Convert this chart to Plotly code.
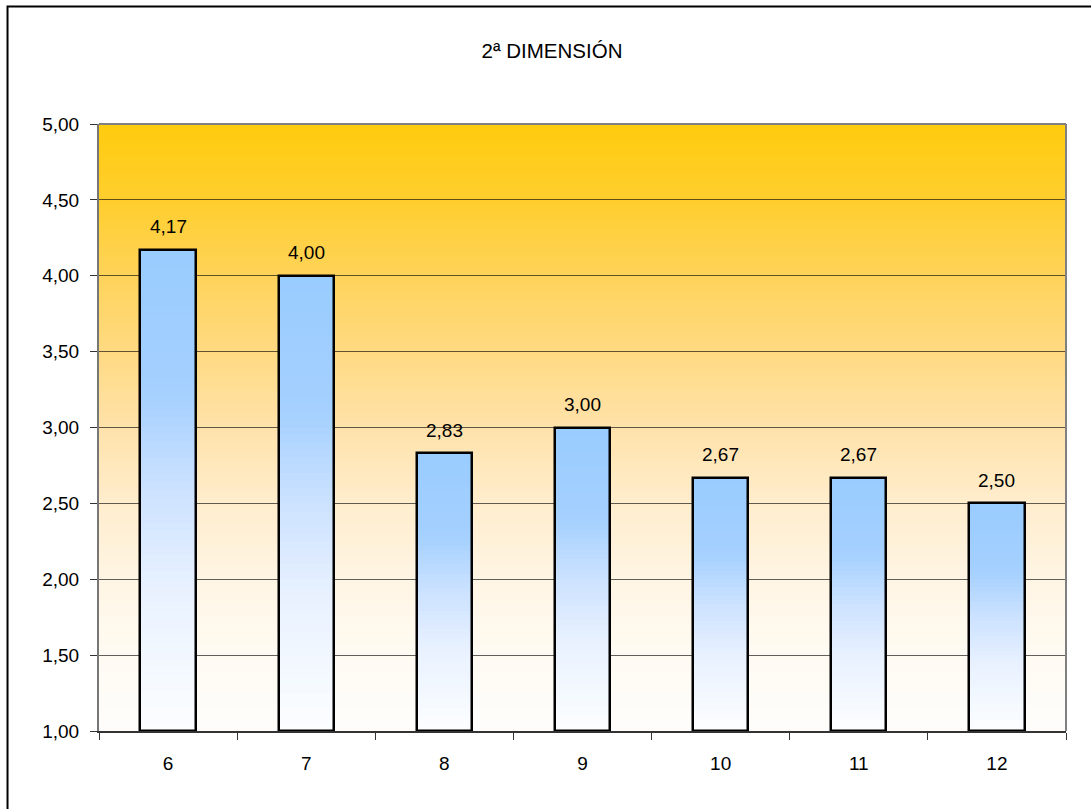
import plotly.graph_objects as go

# Data
categories = ["6", "7", "8", "9", "10", "11", "12"]
values = [4.17, 4.00, 2.83, 3.00, 2.67, 2.67, 2.50]
y_ticks = [1.0, 1.5, 2.0, 2.5, 3.0, 3.5, 4.0, 4.5, 5.0]
title_text = "2ª DIMENSIÓN"

Y_MIN, Y_MAX = 1.0, 5.0
FONT = "Liberation Sans, Arial, sans-serif"
BAR_WIDTH = 0.40
N_SLICES = 60
N_STRIPS = 120

# Colour stops (position 0 = bottom, 1 = top)
BAR_STOPS = [
    (0.00, (252, 253, 255)),
    (0.10, (246, 250, 255)),
    (0.30, (232, 241, 255)),
    (0.50, (204, 226, 255)),
    (0.70, (165, 208, 255)),
    (1.00, (153, 204, 255)),
]
BG_STOPS = [
    (0.000, (254, 253, 251)),
    (0.125, (255, 251, 243)),
    (0.250, (255, 245, 228)),
    (0.375, (255, 237, 205)),
    (0.500, (255, 226, 170)),
    (0.625, (255, 218, 130)),
    (0.750, (255, 211, 90)),
    (0.875, (255, 206, 45)),
    (1.000, (255, 204, 14)),
]


def gradient(stops, t):
    for (p0, c0), (p1, c1) in zip(stops, stops[1:]):
        if t <= p1:
            u = (t - p0) / (p1 - p0)
            return "rgb({},{},{})".format(*[round(a + (b - a) * u) for a, b in zip(c0, c1)])
    return "rgb({},{},{})".format(*stops[-1][1])


def fmt(v):
    return f"{v:.2f}".replace(".", ",")


x_pos = list(range(len(categories)))
fig = go.Figure()

# Bars: vertical white-to-blue gradient built from stacked slices of each bar;
# each slice overlaps the next one a little so no seams show.
for k in range(N_SLICES):
    t = (k + 0.5) / N_SLICES
    last = k == N_SLICES - 1
    fig.add_trace(go.Bar(
        x=x_pos,
        y=[(v - Y_MIN) / N_SLICES * (1.0 if last else 1.8) for v in values],
        base=[Y_MIN + k * (v - Y_MIN) / N_SLICES for v in values],
        width=BAR_WIDTH,
        marker=dict(color=gradient(BAR_STOPS, t), line=dict(width=0)),
        hoverinfo="skip",
        showlegend=False,
    ))

# Bar outlines
fig.add_trace(go.Bar(
    x=x_pos,
    y=[v - Y_MIN for v in values],
    base=[Y_MIN] * len(values),
    width=BAR_WIDTH,
    marker=dict(color="rgba(0,0,0,0)", line=dict(color="black", width=2.5)),
    showlegend=False,
))

shapes = []
# Plot-area background: gold at the top fading to white at the bottom
step = (Y_MAX - Y_MIN) / N_STRIPS
for i in range(N_STRIPS):
    t = (i + 0.5) / N_STRIPS
    shapes.append(dict(
        type="rect", xref="x domain", yref="y", layer="below",
        x0=0, x1=1, y0=Y_MIN + i * step,
        y1=min(Y_MAX, Y_MIN + (i + 1.8) * step),
        fillcolor=gradient(BG_STOPS, t), line=dict(width=0),
    ))

# Plot-area top and right border
shapes.append(dict(type="line", xref="paper", yref="paper", layer="above",
                   x0=0, x1=1, y0=1, y1=1, line=dict(color="#808080", width=2)))
shapes.append(dict(type="line", xref="paper", yref="paper", layer="above",
                   x0=1, x1=1, y0=0, y1=1, line=dict(color="#808080", width=2)))

# Outer chart frame
shapes.append(dict(type="rect", xref="paper", yref="paper", layer="above",
                   x0=-0.0946, x1=1.04, y0=-0.16, y1=1.1936,
                   line=dict(color="black", width=2), fillcolor="rgba(0,0,0,0)"))

# Value labels above the bars
annotations = [
    dict(x=x, y=v, text=fmt(v), showarrow=False, yanchor="middle", yshift=23,
         font=dict(family=FONT, size=19, color="black"))
    for x, v in zip(x_pos, values)
]

fig.update_layout(
    width=1091, height=809,
    margin=dict(l=99, r=25, t=124, b=78),
    paper_bgcolor="white",
    plot_bgcolor="white",
    barmode="overlay",
    bargap=0,
    separators=",.",
    font=dict(family=FONT, size=19, color="black"),
    title=dict(text=title_text, x=0.506, xanchor="center", y=1 - 51 / 809,
               yanchor="middle", xref="container", yref="container",
               font=dict(family=FONT, size=20.5, color="black")),
    shapes=shapes,
    annotations=annotations,
    showlegend=False,
)

fig.update_xaxes(
    range=[-0.5, len(categories) - 0.5],
    tickvals=x_pos, ticktext=categories,
    ticks="", showgrid=False, zeroline=False,
    showline=True, linecolor="#333333", linewidth=1.5,
    ticklabelstandoff=14,
    minor=dict(tickvals=[i - 0.5 for i in range(len(categories) + 1)],
               ticks="outside", ticklen=7, tickcolor="#333333", tickwidth=1,
               showgrid=False),
    tickfont=dict(family=FONT, size=19, color="black"),
    fixedrange=True,
)
fig.update_yaxes(
    range=[Y_MIN, Y_MAX],
    tickvals=y_ticks, tickformat=".2f",
    ticks="outside", ticklen=7, tickcolor="#333333", tickwidth=1,
    showgrid=True, gridcolor="rgba(0,0,0,0.62)", gridwidth=1,
    zeroline=False,
    showline=True, linecolor="#777777", linewidth=2,
    ticklabelstandoff=7,
    tickfont=dict(family=FONT, size=19, color="black"),
    fixedrange=True,
)

fig.write_html("out.html")
